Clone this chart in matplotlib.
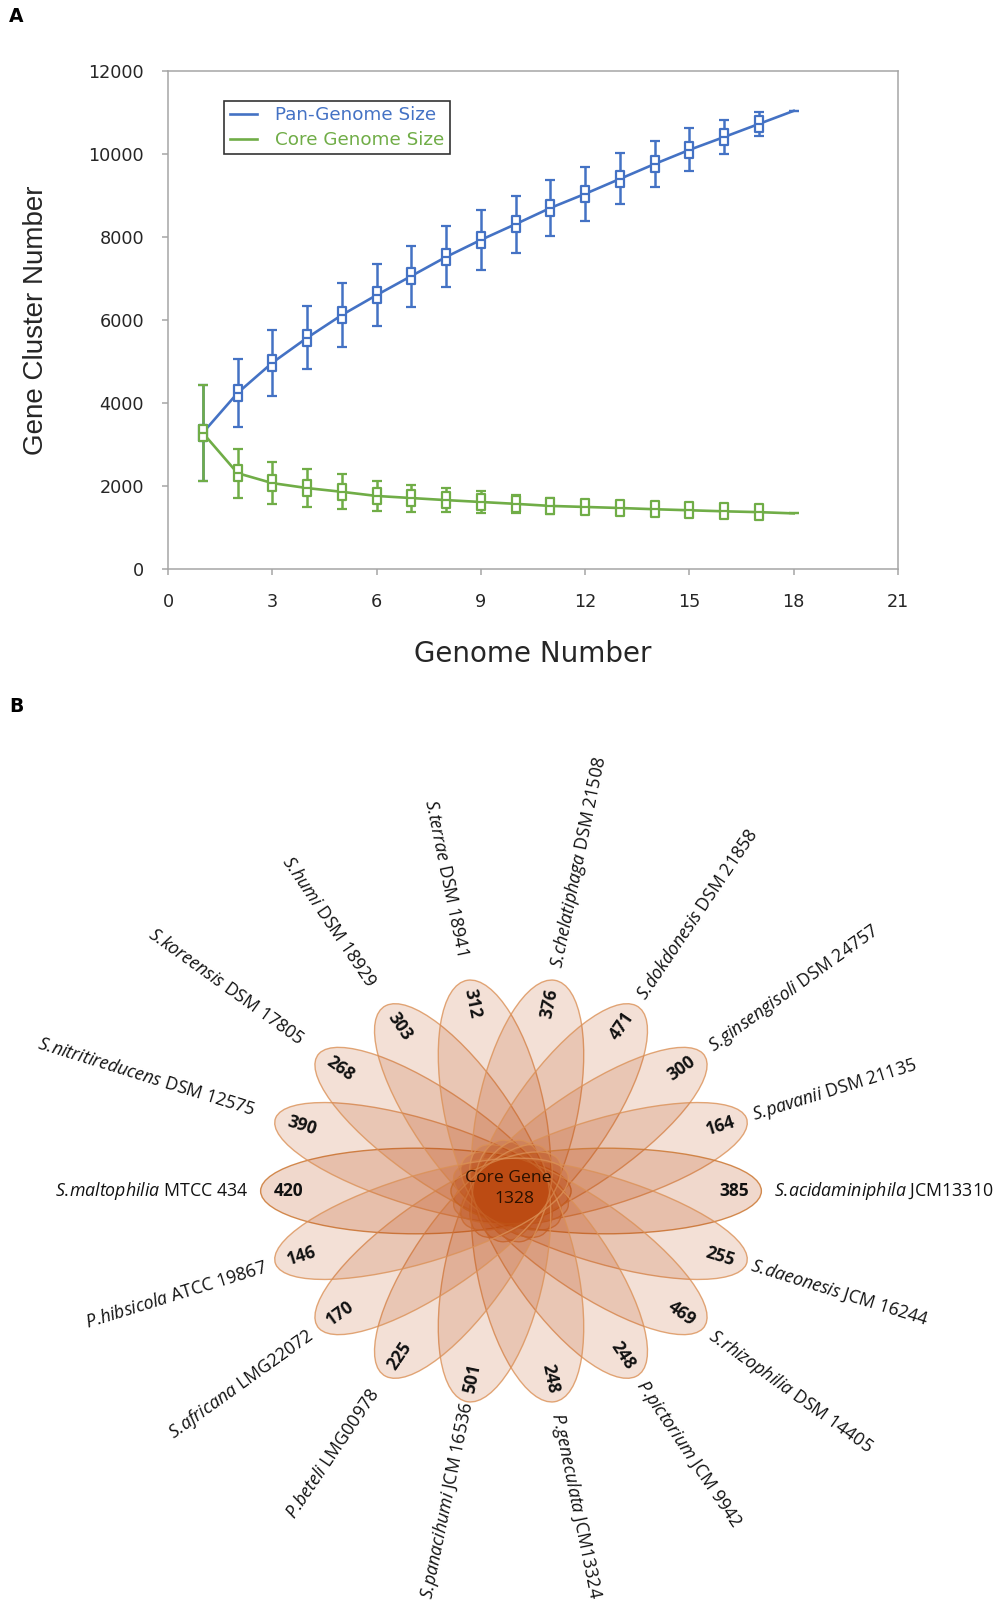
import numpy as np
import matplotlib
matplotlib.use("Agg")
import matplotlib.pyplot as plt
from matplotlib.patches import Ellipse
from matplotlib.path import Path
from matplotlib.lines import Line2D

# ---------------- data ----------------
genome_number = [1, 2, 3, 4, 5, 6, 7, 8, 9, 10, 11, 12, 13, 14, 15, 16, 17, 18]
pan_size = [3280, 4240, 4970, 5570, 6120, 6600, 7060, 7520, 7930, 8310, 8700,
            9040, 9400, 9760, 10100, 10410, 10725, 11040]
pan_err = [1150, 830, 800, 760, 760, 750, 735, 735, 720, 690, 675, 650, 615,
           565, 520, 400, 290, 0]
core_size = [3280, 2310, 2070, 1950, 1860, 1760, 1710, 1660, 1615, 1570, 1520,
             1495, 1470, 1440, 1415, 1390, 1370, 1340]
core_err = [1150, 590, 500, 460, 420, 360, 325, 290, 265, 220, 200, 170, 130,
            100, 80, 60, 40, 0]
x_ticks = [0, 3, 6, 9, 12, 15, 18, 21]
y_ticks = [0, 2000, 4000, 6000, 8000, 10000, 12000]

species = ["S.maltophilia", "S.nitritireducens", "S.koreensis", "S.humi",
           "S.terrae", "S.chelatiphaga", "S.dokdonesis", "S.ginsengisoli",
           "S.pavanii", "S.acidaminiphila", "S.daeonesis", "S.rhizophilia",
           "P.pictorium", "P.geneculata", "S.panacihumi", "P.beteli",
           "S.africana", "P.hibsicola"]
strains = ["MTCC 434", "DSM 12575", "DSM 17805", "DSM 18929", "DSM 18941",
           "DSM 21508", "DSM 21858", "DSM 24757", "DSM 21135", "JCM13310",
           "JCM 16244", "DSM 14405", "JCM 9942", "JCM13324", "JCM 16536",
           "LMG00978", "LMG22072", "ATCC 19867"]
unique_genes = [420, 390, 268, 303, 312, 376, 471, 300, 164, 385, 255, 469,
                248, 248, 501, 225, 170, 146]
core_gene = 1328

# layout: radial distance of each species label (petal tip = 1)
label_r = [1.05, 1.09, 1.09, 1.11, 1.12, 1.06, 1.04, 1.04, 1.03, 1.05, 1.02,
           1.04, 1.03, 1.05, 1.0, 1.08, 1.04, 1.04]

# ---------------- figure ----------------
W, H = 1007, 1603
fig = plt.figure(figsize=(W / 100, H / 100), dpi=100)

BLUE = "#4472C4"
GREEN = "#70AD47"
GRAY = "#A6A6A6"

# ---- Panel A ----
axA = fig.add_axes([168 / W, 1 - 569 / H, (898 - 168) / W, (569 - 71) / H])
box = Path([(-0.55, -1), (0.55, -1), (0.55, 1), (-0.55, 1), (-0.55, -1),
            (-0.55, 0), (0.55, 0)],
           [Path.MOVETO, Path.LINETO, Path.LINETO, Path.LINETO, Path.CLOSEPOLY,
            Path.MOVETO, Path.LINETO])
for vals, errs, col, lab in [(pan_size, pan_err, BLUE, "Pan-Genome Size"),
                             (core_size, core_err, GREEN, "Core Genome Size")]:
    axA.errorbar(genome_number, vals, yerr=errs, color=col, lw=1.9,
                 elinewidth=1.8, capsize=3.6, capthick=1.8,
                 marker=box, markersize=11, markerfacecolor="white",
                 markeredgecolor=col, markeredgewidth=1.6,
                 markevery=slice(0, 17), label=lab)

axA.set_xlim(0, 21)
axA.set_ylim(0, 12000)
axA.set_xticks(x_ticks)
axA.set_yticks(y_ticks)
for s in axA.spines.values():
    s.set_color(GRAY)
    s.set_linewidth(1.1)
axA.tick_params(direction="out", length=4.3, width=1.1, color=GRAY,
                labelsize=12.7, labelcolor="#262626", pad=13)
for t in axA.get_xticklabels() + axA.get_yticklabels():
    t.set_family("DejaVu Sans")

axA.set_xlabel("Genome Number", fontsize=20, family="DejaVu Sans", color="#262626")
axA.xaxis.set_label_coords(0.5, -0.171)
axA.xaxis.label.set_verticalalignment("center")
axA.set_ylabel("Gene Cluster Number", fontsize=20, family="Liberation Sans",
               color="#262626")
axA.yaxis.set_label_coords(-0.181, 0.5)
axA.yaxis.label.set_verticalalignment("center")

labels = ["Pan-Genome Size", "Core Genome Size"]
hs = [Line2D([], [], color=BLUE, lw=1.9), Line2D([], [], color=GREEN, lw=1.9)]
leg = axA.legend(hs, labels, loc="upper left",
                 bbox_to_anchor=((224 - 168) / 730, (569 - 101) / 498),
                 prop={"family": "DejaVu Sans", "size": 13.2},
                 handlelength=1.5, handletextpad=1.0, borderpad=0.3,
                 labelspacing=0.35, fancybox=False, frameon=True,
                 borderaxespad=0)
leg.get_frame().set_edgecolor("black")
leg.get_frame().set_linewidth(1.2)
for txt, col in zip(leg.get_texts(), [BLUE, GREEN]):
    txt.set_color(col)

fig.text(16 / W, 1 - 17 / H, "A", fontsize=13.5, fontweight="bold",
         family="DejaVu Sans", ha="center", va="center")
fig.text(16 / W, 1 - 706 / H, "B", fontsize=13.5, fontweight="bold",
         family="DejaVu Sans", ha="center", va="center")

# ---- Panel B ----
plt.rcParams["mathtext.fontset"] = "custom"
plt.rcParams["mathtext.it"] = "Open Sans:italic"
plt.rcParams["mathtext.rm"] = "Open Sans"

top_px = 715
axB = fig.add_axes([0, 0, 1, (H - top_px) / H])
cx, cy = 511, 1191
sy = 214.0
sx = 214.0 * 1.17
axB.set_xlim(-cx / sx, (W - cx) / sx)
axB.set_ylim(-(H - cy) / sy, (cy - top_px) / sy)
axB.axis("off")

C_FILL = np.array([188, 72, 14]) / 255
n = len(species)
angles = [180 - 20 * i for i in range(n)]
c_off, a_ax, b_ax = 0.38, 0.62, 0.2
for i, th in enumerate(angles):
    t = np.deg2rad(th)
    horiz = abs(np.cos(t)) > 0.99
    alpha = 0.21 if horiz else 0.17
    ec = (0.80, 0.47, 0.2, 0.85) if horiz else (0.86, 0.57, 0.34, 0.8)
    e = Ellipse((c_off * np.cos(t), c_off * np.sin(t)), 2 * a_ax, 2 * b_ax,
                angle=th, facecolor=(*C_FILL, alpha), edgecolor=ec, lw=1.0)
    axB.add_patch(e)

for i, th in enumerate(angles):
    t = np.deg2rad(th)
    disp = np.rad2deg(np.arctan2(sy * np.sin(t), sx * np.cos(t)))
    right = np.cos(t) > 0
    rot = disp if right else disp - 180
    rn = 0.89
    axB.text(rn * np.cos(t), rn * np.sin(t), str(unique_genes[i]),
             rotation=rot, rotation_mode="anchor", ha="center", va="center",
             fontsize=12.5, fontweight="bold", family="Open Sans", color="#111111")
    rl = label_r[i]
    sp = species[i].replace(".", r".\!")
    lab = r"$\mathit{" + sp + "}$ " + strains[i]
    axB.text(rl * np.cos(t), rl * np.sin(t), lab, rotation=rot,
             rotation_mode="anchor", ha="left" if right else "right",
             va="center", fontsize=12.8, family="Open Sans", color="#111111")

axB.text(-0.01, 0.06, "Core Gene", ha="center", va="center", fontsize=12.6,
         family="Open Sans", color="#2a1000")
axB.text(0.012, -0.037, str(core_gene), ha="center", va="center", fontsize=12.6,
         family="Open Sans", color="#2a1000")

fig.savefig("out.png", dpi=100)
